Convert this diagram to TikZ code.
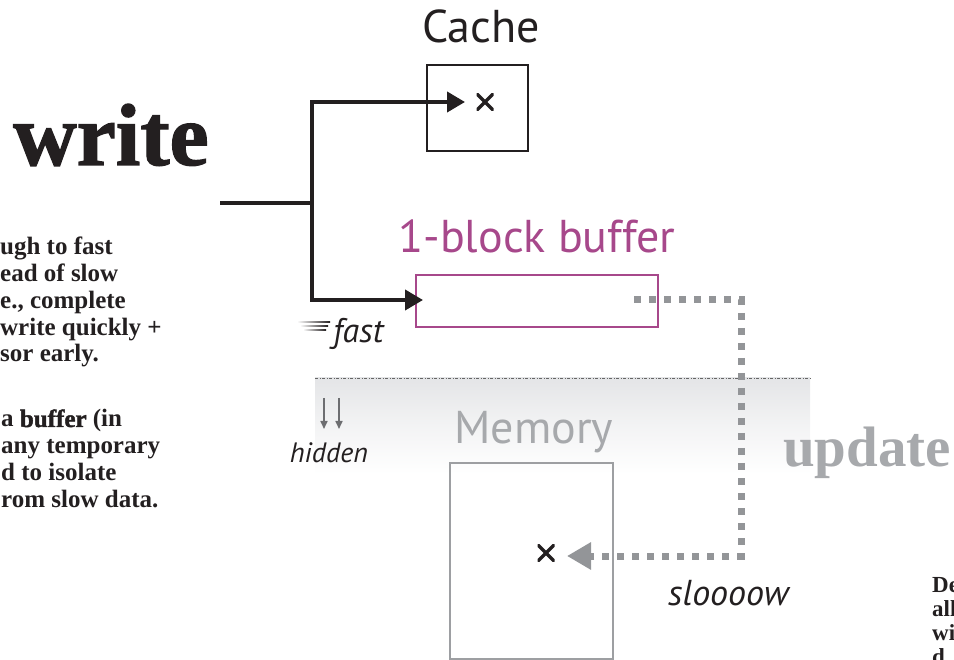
\documentclass[tikz,border=0pt]{standalone}
\usepackage{fontspec}
\setmainfont{Liberation Serif}
\newfontfamily\labelsans{PT Sans}
\newfontfamily\heavyserif[FakeBold=1.5]{Liberation Serif Bold}
\usetikzlibrary{arrows.meta}

\definecolor{plum}{RGB}{167,72,139}
\definecolor{memgray}{RGB}{167,169,172}
\definecolor{boxgray}{RGB}{157,159,162}
\definecolor{dotgray}{RGB}{147,149,152}
\definecolor{downgray}{RGB}{109,110,113}
\definecolor{bandgray}{RGB}{228,229,231}
\definecolor{ink}{RGB}{35,31,32}

\tikzset{
  title/.style={font=\labelsans\fontsize{46}{50}\selectfont, inner sep=0pt, anchor=base},
  lbl/.style={font=\labelsans\itshape\fontsize{#1}{#1}\selectfont, inner sep=0pt, text=ink},
  xmark/.style={minimum size=17pt, inner sep=0pt,
    path picture={\draw[ink, line width=3.4pt]
      (path picture bounding box.north west) -- (path picture bounding box.south east)
      (path picture bounding box.south west) -- (path picture bounding box.north east);}},
  body/.style={font=\bfseries\fontsize{#1}{#1}\selectfont, inner sep=0pt, text=ink, anchor=base west},
  fastarrow/.style={draw=ink, line width=4pt, line join=miter, -{Triangle[length=18pt,width=20pt]}},
  slowarrow/.style={draw=dotgray, line width=7pt, dash pattern=on 7pt off 8pt, -{Triangle[length=24pt,width=26pt]}},
  hidearrow/.style={draw=downgray, line width=1.6pt, -{Triangle[length=8pt,width=7pt]}},
}

\begin{document}
\begin{tikzpicture}[x=1pt,y=-1pt]
\useasboundingbox (0,0) rectangle (954,660);
\clip (0,0) rectangle (954,660);

% shaded band marking the hidden memory level
\shade[top color=bandgray, bottom color=white, middle color=bandgray!45] (315,378) rectangle (810,474);
\draw[black!60, line width=0.7pt, dash pattern=on 3pt off 1.5pt on 1pt off 1.5pt] (315,378) -- (810,378);

% headings
\node[font=\heavyserif\fontsize{88}{88}\selectfont, inner sep=0pt, anchor=base west, text=ink] (write) at (13,165) {write};
\node[title, text=ink] (cachelbl) at (481,43) {Cache};
\node[title, text=plum] (buflbl) at (537,253) {1-block buffer};
\node[title, text=memgray] (memlbl) at (534,443) {Memory};
\node[font=\bfseries\fontsize{57}{57}\selectfont, inner sep=0pt, anchor=base west, text=memgray] (update) at (783,467) {update};

% storage boxes
\node[draw=ink, line width=1.3pt, minimum width=101pt, minimum height=86pt, inner sep=0pt] (cache) at (477.5,108) {};
\node[draw=plum, line width=2pt, minimum width=242pt, minimum height=52pt, inner sep=0pt] (buffer) at (537,301.5) {};
\node[draw=boxgray, line width=1.5pt, minimum width=163pt, minimum height=196pt, inner sep=0pt] (memory) at (531.5,561) {};

% data blocks
\node[xmark] (cx) at (485,102) {};
\node[xmark] (mx) at (546,553) {};

% write path: through to cache and buffer
\coordinate (wstart) at (220,203);
\coordinate (split) at (312,203);
\coordinate (cachetip) at (465,102);
\coordinate (buftip) at (423,300);
\draw[draw=ink, line width=4pt] (wstart) -- (split);
\draw[fastarrow] (split) |- (cachetip);
\draw[fastarrow] (split) |- (buftip);

% slow drain from buffer to memory
\coordinate (bufout) at (634,300);
\coordinate (corner) at (741,300);
\coordinate (corner2) at (741,556);
\coordinate (memtip) at (567,556);
\draw[slowarrow] (bufout) -- (corner) -- (corner2) -- (memtip);

% speed lines and labels
\shade[left color=white, right color=ink] (297,321.3) rectangle (330,322.7);
\shade[left color=white, right color=ink] (300,325.3) rectangle (328,326.7);
\shade[left color=white, right color=ink] (303,329.3) rectangle (326,330.7);
\node[lbl=34, anchor=base west] (fast) at (333,343) {fast};
\node[lbl=28, anchor=base] (hidden) at (329,463) {hidden};
\node[lbl=36, anchor=base west] (slow) at (668,605) {sloooow};

\coordinate (h1a) at (324,398); \coordinate (h1b) at (324,429);
\coordinate (h2a) at (339,398); \coordinate (h2b) at (339,429);
\draw[hidearrow] (h1a) -- (h1b);
\draw[hidearrow] (h2a) -- (h2b);

% side notes, one node per line
\foreach \txt [count=\i] in {ugh to fast, ead of slow, {e., complete}, write quickly +, sor early.}
  \node[body=25] (notea\i) at (0,{255+26.7*(\i-1)}) {\txt};
\foreach \txt [count=\i] in {{a {\heavyserif buffer} (in}, any temporary, d to isolate, rom slow data.}
  \node[body=25] (noteb\i) at (1,{427+26.7*(\i-1)}) {\txt};
\foreach \txt [count=\i] in {De, all, wi, d}
  \node[body=23] (notec\i) at (932,{592+24*(\i-1)}) {\txt};
\end{tikzpicture}
\end{document}
